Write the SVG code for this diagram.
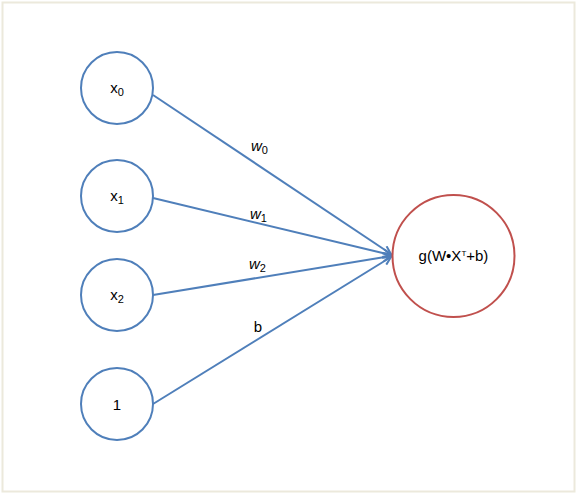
<svg xmlns="http://www.w3.org/2000/svg" width="578" height="494" viewBox="0 0 578 494">
<style>
.in{fill:#ffffff;stroke:#4f7fba;stroke-width:2}
.out{fill:#ffffff;stroke:#c0504d;stroke-width:2}
.t{font-family:"Liberation Sans",Arial,sans-serif;font-size:15px;fill:#000;text-anchor:middle}
.w{font-family:"Liberation Sans",Arial,sans-serif;font-size:15px;fill:#000;font-style:italic}
.e{stroke:#4f7fba;stroke-width:2;fill:none;marker-end:url(#ah)}
</style>
<defs>
<marker id="ah" viewBox="0 0 10 10" refX="9" refY="5" markerWidth="5" markerHeight="5" orient="auto" markerUnits="strokeWidth">
<path d="M1,1 L9,5 L1,9" fill="none" stroke="#4f7fba" stroke-width="2"/>
</marker>
</defs>
<rect x="0" y="0" width="578" height="494" fill="#ffffff"/>
<rect x="2.5" y="2.5" width="572" height="489" fill="none" stroke="#ece9dc" stroke-width="2"/>
<g id="connectors">
<line class="e" x1="153" y1="95" x2="391" y2="254"/>
<line class="e" x1="153" y1="198" x2="391" y2="255"/>
<line class="e" x1="153" y1="295" x2="391" y2="256"/>
<line class="e" x1="153" y1="404" x2="391" y2="257"/>
<text class="w" x="251" y="151">w<tspan font-size="11" dy="3" font-style="normal">0</tspan></text>
<text class="w" x="250" y="219">w<tspan font-size="11" dy="3" font-style="normal">1</tspan></text>
<text class="w" x="249" y="269">w<tspan font-size="11" dy="3" font-style="normal">2</tspan></text>
<text class="t" x="258" y="332">b</text>
</g>
<g id="x0">
<circle class="in" cx="117" cy="88" r="36"/>
<text class="t" x="117" y="93">x<tspan font-size="11" dy="3">0</tspan></text>
</g>
<g id="x1">
<circle class="in" cx="117" cy="196" r="36"/>
<text class="t" x="117" y="201">x<tspan font-size="11" dy="3">1</tspan></text>
</g>
<g id="x2">
<circle class="in" cx="117" cy="295" r="36"/>
<text class="t" x="117" y="300">x<tspan font-size="11" dy="3">2</tspan></text>
</g>
<g id="one">
<circle class="in" cx="117" cy="404" r="36"/>
<text class="t" x="117" y="410">1</text>
</g>
<g id="output">
<circle class="out" cx="453.5" cy="256" r="61"/>
<text class="t" x="453.5" y="261" font-size="13">g(W•X<tspan font-size="8" dy="-5">T</tspan><tspan dy="5">+b)</tspan></text>
</g>
</svg>
